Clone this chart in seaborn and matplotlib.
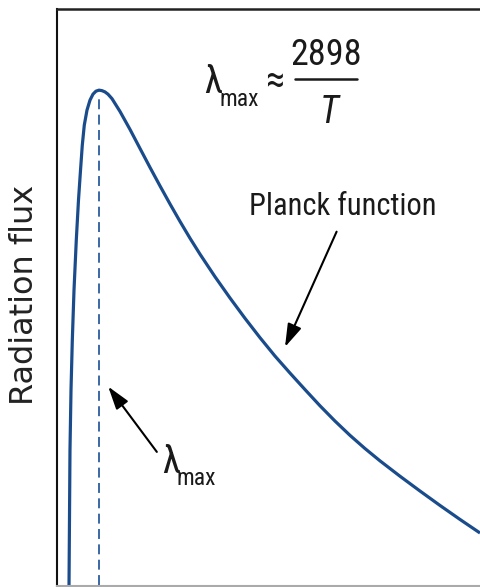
import matplotlib
matplotlib.use("Agg")
import numpy as np
import pandas as pd
import seaborn as sns
import matplotlib.pyplot as plt
from matplotlib import font_manager as fm
from matplotlib.lines import Line2D

# ---- data (wavelength in arbitrary units, flux in % of peak)
wavelength = [0.284, 0.307, 0.331, 0.362, 0.402, 0.456, 0.508, 0.556, 0.598, 0.645,
              0.709, 0.780, 0.851, 0.922, 0.993, 1.064, 1.135, 1.206, 1.300, 1.489,
              1.726, 1.962, 2.199, 2.435, 2.671, 2.908, 3.144, 3.381, 3.735, 4.090,
              4.444, 4.799, 5.154, 5.508, 5.863, 6.217, 6.572, 6.927, 7.281, 7.636,
              8.109, 8.582, 9.054, 9.527, 10.0]
flux = [0.0, 27.27, 39.39, 49.49, 59.60, 69.70, 77.78, 83.84, 88.89, 92.93,
        95.96, 97.98, 99.19, 99.80, 100.0, 99.90, 99.64, 99.18, 98.28, 95.70,
        92.06, 88.22, 84.38, 80.65, 77.01, 73.47, 70.08, 66.85, 62.30, 58.00,
        53.90, 49.98, 46.26, 42.83, 39.49, 36.22, 33.13, 30.24, 27.58, 25.09,
        21.98, 18.99, 16.08, 13.25, 10.51]
ylabel_text = "Radiation flux"
curve_label = "Planck function"
wien_numerator = "2898"
wien_denominator = "T"

sns.set_theme(style="white")


def pick(cands):
    for c in cands:
        try:
            fm.findfont(fm.FontProperties(family=c), fallback_to_default=False)
            return c
        except Exception:
            continue
    return "DejaVu Sans"


narrow = pick(["Liberation Sans Narrow", "Roboto Condensed", "DejaVu Sans Condensed", "Liberation Sans"])
plt.rcParams["font.family"] = [narrow, "DejaVu Sans"]

df = pd.DataFrame({"wavelength": wavelength, "flux": flux})

fig = plt.figure(figsize=(4.8, 5.87), dpi=100)
fig.patch.set_facecolor("white")
ax = fig.add_axes([57 / 480, 1 / 587, 423 / 480, 577 / 587])

blue = "#1a4c8c"
sns.lineplot(data=df, x="wavelength", y="flux", ax=ax, color=blue, linewidth=2.3,
             estimator=None, sort=True)
for ln in ax.lines:
    ln.set_solid_joinstyle("round")
    ln.set_solid_capstyle("butt")

# dashed line at the peak
ipk = int(np.argmax(df["flux"].values))
x_pk = df["wavelength"].iloc[ipk]
y_pk = df["flux"].iloc[ipk]
ax.vlines(x_pk, 0, y_pk - 1.5, colors="#2b5c9e", linewidth=1.3, linestyles=(0, (5.5, 3)))

ax.set_xlim(0, 10)
ax.set_ylim(-0.2, 116.4)
ax.set_xticks([])
ax.set_yticks([])
ax.set_xlabel("")
ax.set_ylabel(ylabel_text, fontsize=23, family=["DejaVu Sans"], color="#222222")
ax.yaxis.set_label_coords(-0.04, 0.504)

ax.spines["right"].set_visible(False)
ax.spines["left"].set_color("#111111")
ax.spines["left"].set_linewidth(1.5)
ax.spines["top"].set_color("#222222")
ax.spines["top"].set_linewidth(1.8)
ax.spines["bottom"].set_color("#aaaaaa")
ax.spines["bottom"].set_linewidth(1.5)

tc = "#1a1a1a"
# top formula: lambda_max ~ 2898 / T
ax.text(3.48, 99.4, "λ", fontsize=27, color=tc, ha="left", va="baseline")
ax.text(3.83, 96.8, "max", fontsize=17, color=tc, ha="left", va="baseline")
ax.text(5.15, 101.8, "≈", fontsize=28, color=tc, ha="center", va="center")
ax.text(6.37, 105.0, wien_numerator, fontsize=26, color=tc, ha="center", va="baseline")
ax.text(6.43, 93.3, wien_denominator, fontsize=27, style="italic", color=tc, ha="center", va="baseline")
fig.add_artist(Line2D([295 / 480, 357 / 480], [1 - 78.5 / 587, 1 - 78.5 / 587],
                      color=tc, linewidth=1.8, transform=fig.transFigure))

# Planck function label + arrow
ax.text(6.76, 74.7, curve_label, fontsize=22, color=tc, ha="center", va="baseline")
ax.annotate("", xy=(5.39, 48.1), xytext=(6.61, 71.4),
            arrowprops=dict(arrowstyle="-|>,head_length=0.7,head_width=0.22",
                            color="black", lw=1.5, shrinkA=0, shrinkB=0, mutation_scale=20))

# lambda_max label + arrow
ax.text(2.48, 22.6, "λ", fontsize=27, color=tc, ha="left", va="baseline")
ax.text(2.83, 20.2, "max", fontsize=17, color=tc, ha="left", va="baseline")
ax.annotate("", xy=(1.21, 40.1), xytext=(2.36, 26.9),
            arrowprops=dict(arrowstyle="-|>,head_length=0.7,head_width=0.22",
                            color="black", lw=1.5, shrinkA=0, shrinkB=0, mutation_scale=20))

fig.savefig("out.png", dpi=100, facecolor="white")
